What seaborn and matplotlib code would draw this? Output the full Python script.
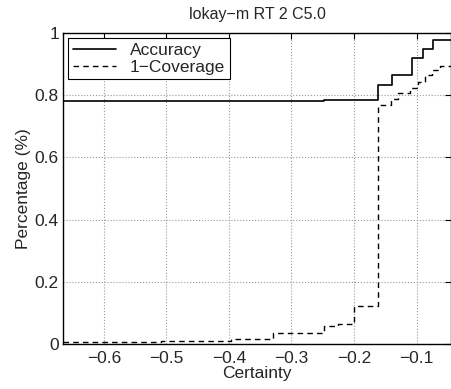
import numpy as np
import pandas as pd
import matplotlib
matplotlib.use('Agg')
import matplotlib.pyplot as plt
import seaborn as sns

# step curves
acc_x = [-0.665, -0.248, -0.162, -0.140, -0.108, -0.089, -0.073, -0.045]
acc_y = [0.781, 0.785, 0.833, 0.865, 0.920, 0.949, 0.977, 0.977]

cov_x = [-0.665, -0.509, -0.397, -0.330, -0.248, -0.225, -0.200, -0.162,
         -0.141, -0.130, -0.110, -0.098, -0.087, -0.076, -0.063, -0.045]
cov_y = [0.005, 0.010, 0.015, 0.035, 0.058, 0.065, 0.122, 0.768,
         0.788, 0.807, 0.823, 0.842, 0.865, 0.880, 0.894, 0.897]

x_ticks = [-0.6, -0.5, -0.4, -0.3, -0.2, -0.1]
y_ticks = [0, 0.2, 0.4, 0.6, 0.8, 1]

sns.set_style('white')
plt.rcParams['font.family'] = ['Liberation Sans', 'DejaVu Sans']
plt.rcParams['axes.unicode_minus'] = True

fig = plt.figure(figsize=(4.51, 3.89), dpi=100)
ax = fig.add_axes([0.14, 0.116, 0.86, 0.799])

acc = pd.DataFrame({'x': acc_x, 'y': acc_y})
cov = pd.DataFrame({'x': cov_x, 'y': cov_y})

sns.lineplot(data=acc, x='x', y='y', ax=ax, color='black', lw=1.2,
             drawstyle='steps-post', estimator=None, sort=False, label='Accuracy')
sns.lineplot(data=cov, x='x', y='y', ax=ax, color='black', lw=1.0,
             drawstyle='steps-post', estimator=None, sort=False,
             label='1\u2212Coverage')
ax.lines[1].set_linestyle((0, (4, 3)))

ax.set_xlim(-0.665, -0.045)
ax.set_ylim(0, 1)
ax.set_xticks(x_ticks)
ax.set_yticks(y_ticks)
ax.set_xticklabels(['\u2212%.1f' % abs(v) for v in x_ticks])
ax.set_yticklabels(['0', '0.2', '0.4', '0.6', '0.8', '1'])
ax.grid(True, ls=':', color='#999999', lw=0.8)
ax.tick_params(direction='in', length=4, top=True, right=True,
               labelsize=12.5, color='black', width=0.8)
ax.tick_params(axis='x', pad=5)
ax.tick_params(axis='y', pad=3)
for s in ax.spines.values():
    s.set_color('black')
    s.set_linewidth(1.0)

ax.set_xlabel('Certainty', fontsize=12.5, labelpad=0)
ax.set_ylabel('Percentage (%)', fontsize=12.5, labelpad=3)
ax.set_title('lokay\u2212m RT 2 C5.0', fontsize=11.5, pad=10)

leg = ax.legend(loc='upper left', fontsize=12.5, frameon=True, fancybox=False,
                edgecolor='black', framealpha=1, borderaxespad=0.3,
                handlelength=2.5, borderpad=0.25, labelspacing=0.1)
leg.get_frame().set_linewidth(0.8)

fig.savefig('out.png', dpi=100)
